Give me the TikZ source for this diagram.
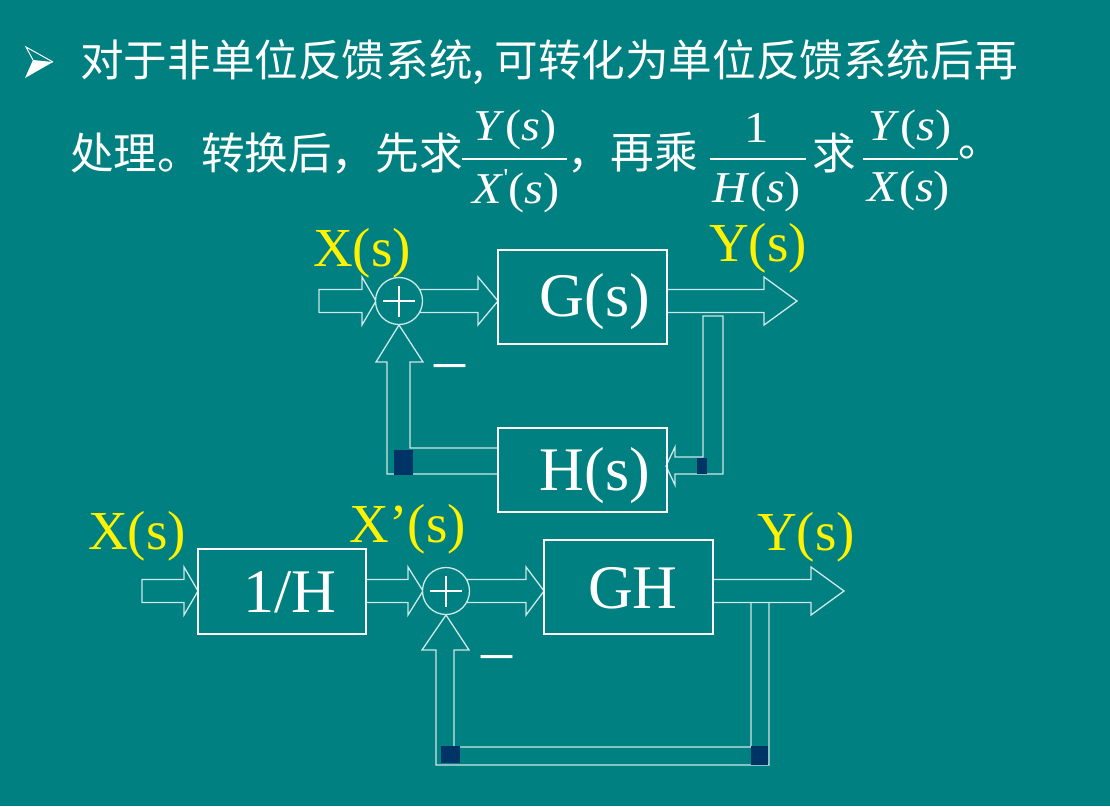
\documentclass[tikz,border=0pt]{standalone}
\usepackage{fontspec}
\setmainfont{Liberation Serif}
\newfontfamily\cjk{Noto Sans CJK SC}
\definecolor{slidebg}{RGB}{0,128,128}
\definecolor{navybox}{RGB}{0,51,102}
\definecolor{arrowgray}{RGB}{205,232,232}
\tikzset{
  arrowline/.style={draw=arrowgray, line width=1.3pt, line join=miter},
  blockbox/.style={draw=white, line width=1.3pt},
  sumcircle/.style={draw=arrowgray, fill=slidebg, line width=1.3pt},
  sigtext/.style={text=yellow, inner sep=0pt, font=\fontsize{55}{55}\selectfont},
  boxtext/.style={text=white, inner sep=0pt, font=\fontsize{62}{62}\selectfont},
  cjktext/.style={text=white, inner sep=0pt, anchor=west, font=\cjk\fontsize{43.6}{50}\selectfont},
  fractext/.style={text=white, inner sep=0pt, font=\fontsize{44}{44}\selectfont},
  minustext/.style={text=white, inner sep=0pt, font=\fontsize{62}{62}\selectfont}
}
% block arrow: x start, x head base, x tip, y centre
\newcommand{\rarrow}[4]{%
  \draw[arrowline] (#1,#4-11.5) -- (#2,#4-11.5) -- (#2,#4-24) -- (#3,#4)
    -- (#2,#4+24) -- (#2,#4+11.5) -- (#1,#4+11.5) -- cycle;}
\newcommand{\wide}[1]{\scalebox{1.1}[1]{#1}}
\begin{document}
\begin{tikzpicture}[x=1pt,y=-1pt]
\useasboundingbox (0,0) rectangle (1110,806);
\fill[slidebg] (0,0) rectangle (1110,806);

% Aufzaehlungszeichen
\fill[white] (25,78) -- (53,62) -- (33,60) -- cycle;
\draw[white, line width=1pt] (33,60) -- (26,47) -- (53,62);

% Text
\node[cjktext] (title1) at (80,62) {对于非单位反馈系统, 可转化为单位反馈系统后再};
\node[cjktext] (title2) at (70,153) {处理。转换后，先求};
\node[fractext] (num1) at (515,130) {\wide{\textit{Y}(\textit{s})}};
\node[fractext] (den1) at (516,191) {\wide{\textit{X}\raisebox{0.4em}{\fontsize{26}{26}\selectfont\textquotesingle}(\textit{s})}};
\draw[white, line width=1.6pt] (462,159) -- (567,159);
\node[cjktext] (title3) at (567,153) {，再乘};
\node[fractext] (num2) at (757,128) {\wide{1}};
\node[fractext] (den2) at (757,192) {\wide{\textit{H}(\textit{s})}};
\draw[white, line width=1.6pt] (710,159) -- (806,159);
\node[cjktext, anchor=center] (qiu) at (834,153) {求};
\node[fractext] (num3) at (910,130) {\wide{\textit{Y}(\textit{s})}};
\node[fractext] (den3) at (909,191) {\wide{\textit{X}(\textit{s})}};
\draw[white, line width=1.6pt] (863,159) -- (958,159);
\node[cjktext] (dot) at (958,153) {。};

% oberes Bild
\rarrow{319}{362}{376}{301}
\rarrow{420}{478}{498}{301}
\rarrow{667}{764}{797}{301}
\draw[arrowline] (498,474) -- (387,474) -- (387,362) -- (376,362) -- (399,325)
  -- (423,362) -- (410,362) -- (410,448) -- (498,448);
\draw[arrowline] (703,316) -- (703,457) -- (675,457) -- (675,447) -- (666,466)
  -- (675,485) -- (675,474) -- (723,474) -- (723,316) -- cycle;
\draw[sumcircle] (399,301) circle (23.5);
\draw[white, line width=1.3pt] (383,301) -- (415,301) (399,286) -- (399,317);
\draw[blockbox] (498,250) rectangle (667,344);
\draw[blockbox] (498,428) rectangle (667,512);
\fill[navybox] (394,450) rectangle (413,475);
\fill[navybox] (697,458) rectangle (707,474);

\node[sigtext] (xin) at (362,253) {X(s)};
\node[sigtext] (yout) at (758,248) {Y(s)};
\node[boxtext] (gtext) at (595,302) {G(s)};
\node[boxtext] (htext) at (595,476) {H(s)};
\node[minustext] (minus1) at (450,373) {–};

% unteres Bild
\rarrow{142}{184}{198}{591}
\rarrow{366}{408}{423}{591}
\rarrow{467}{526}{544}{591}
\rarrow{713}{811}{844}{591}
\draw[arrowline] (751,603) -- (751,747) -- (454,747) -- (454,650) -- (469,650)
  -- (446,615) -- (422,650) -- (436,650) -- (436,765) -- (769,765) -- (769,603);
\draw[sumcircle] (446,591) circle (23.5);
\draw[white, line width=1.3pt] (430,591) -- (462,591) (446,576) -- (446,607);
\draw[blockbox] (198,549) rectangle (366,634);
\draw[blockbox] (544,540) rectangle (713,634);
\fill[navybox] (441,746) rectangle (460,763);
\fill[navybox] (751,746) rectangle (768,765);

\node[sigtext] (xin2) at (137,536) {X(s)};
\node[sigtext] (xprime) at (408,529) {X’(s)};
\node[sigtext] (yout2) at (806,537) {Y(s)};
\node[boxtext] (invh) at (290,592) {1/H};
\node[boxtext] (gh) at (633,588) {GH};
\node[minustext] (minus2) at (497,663) {–};
\end{tikzpicture}
\end{document}
